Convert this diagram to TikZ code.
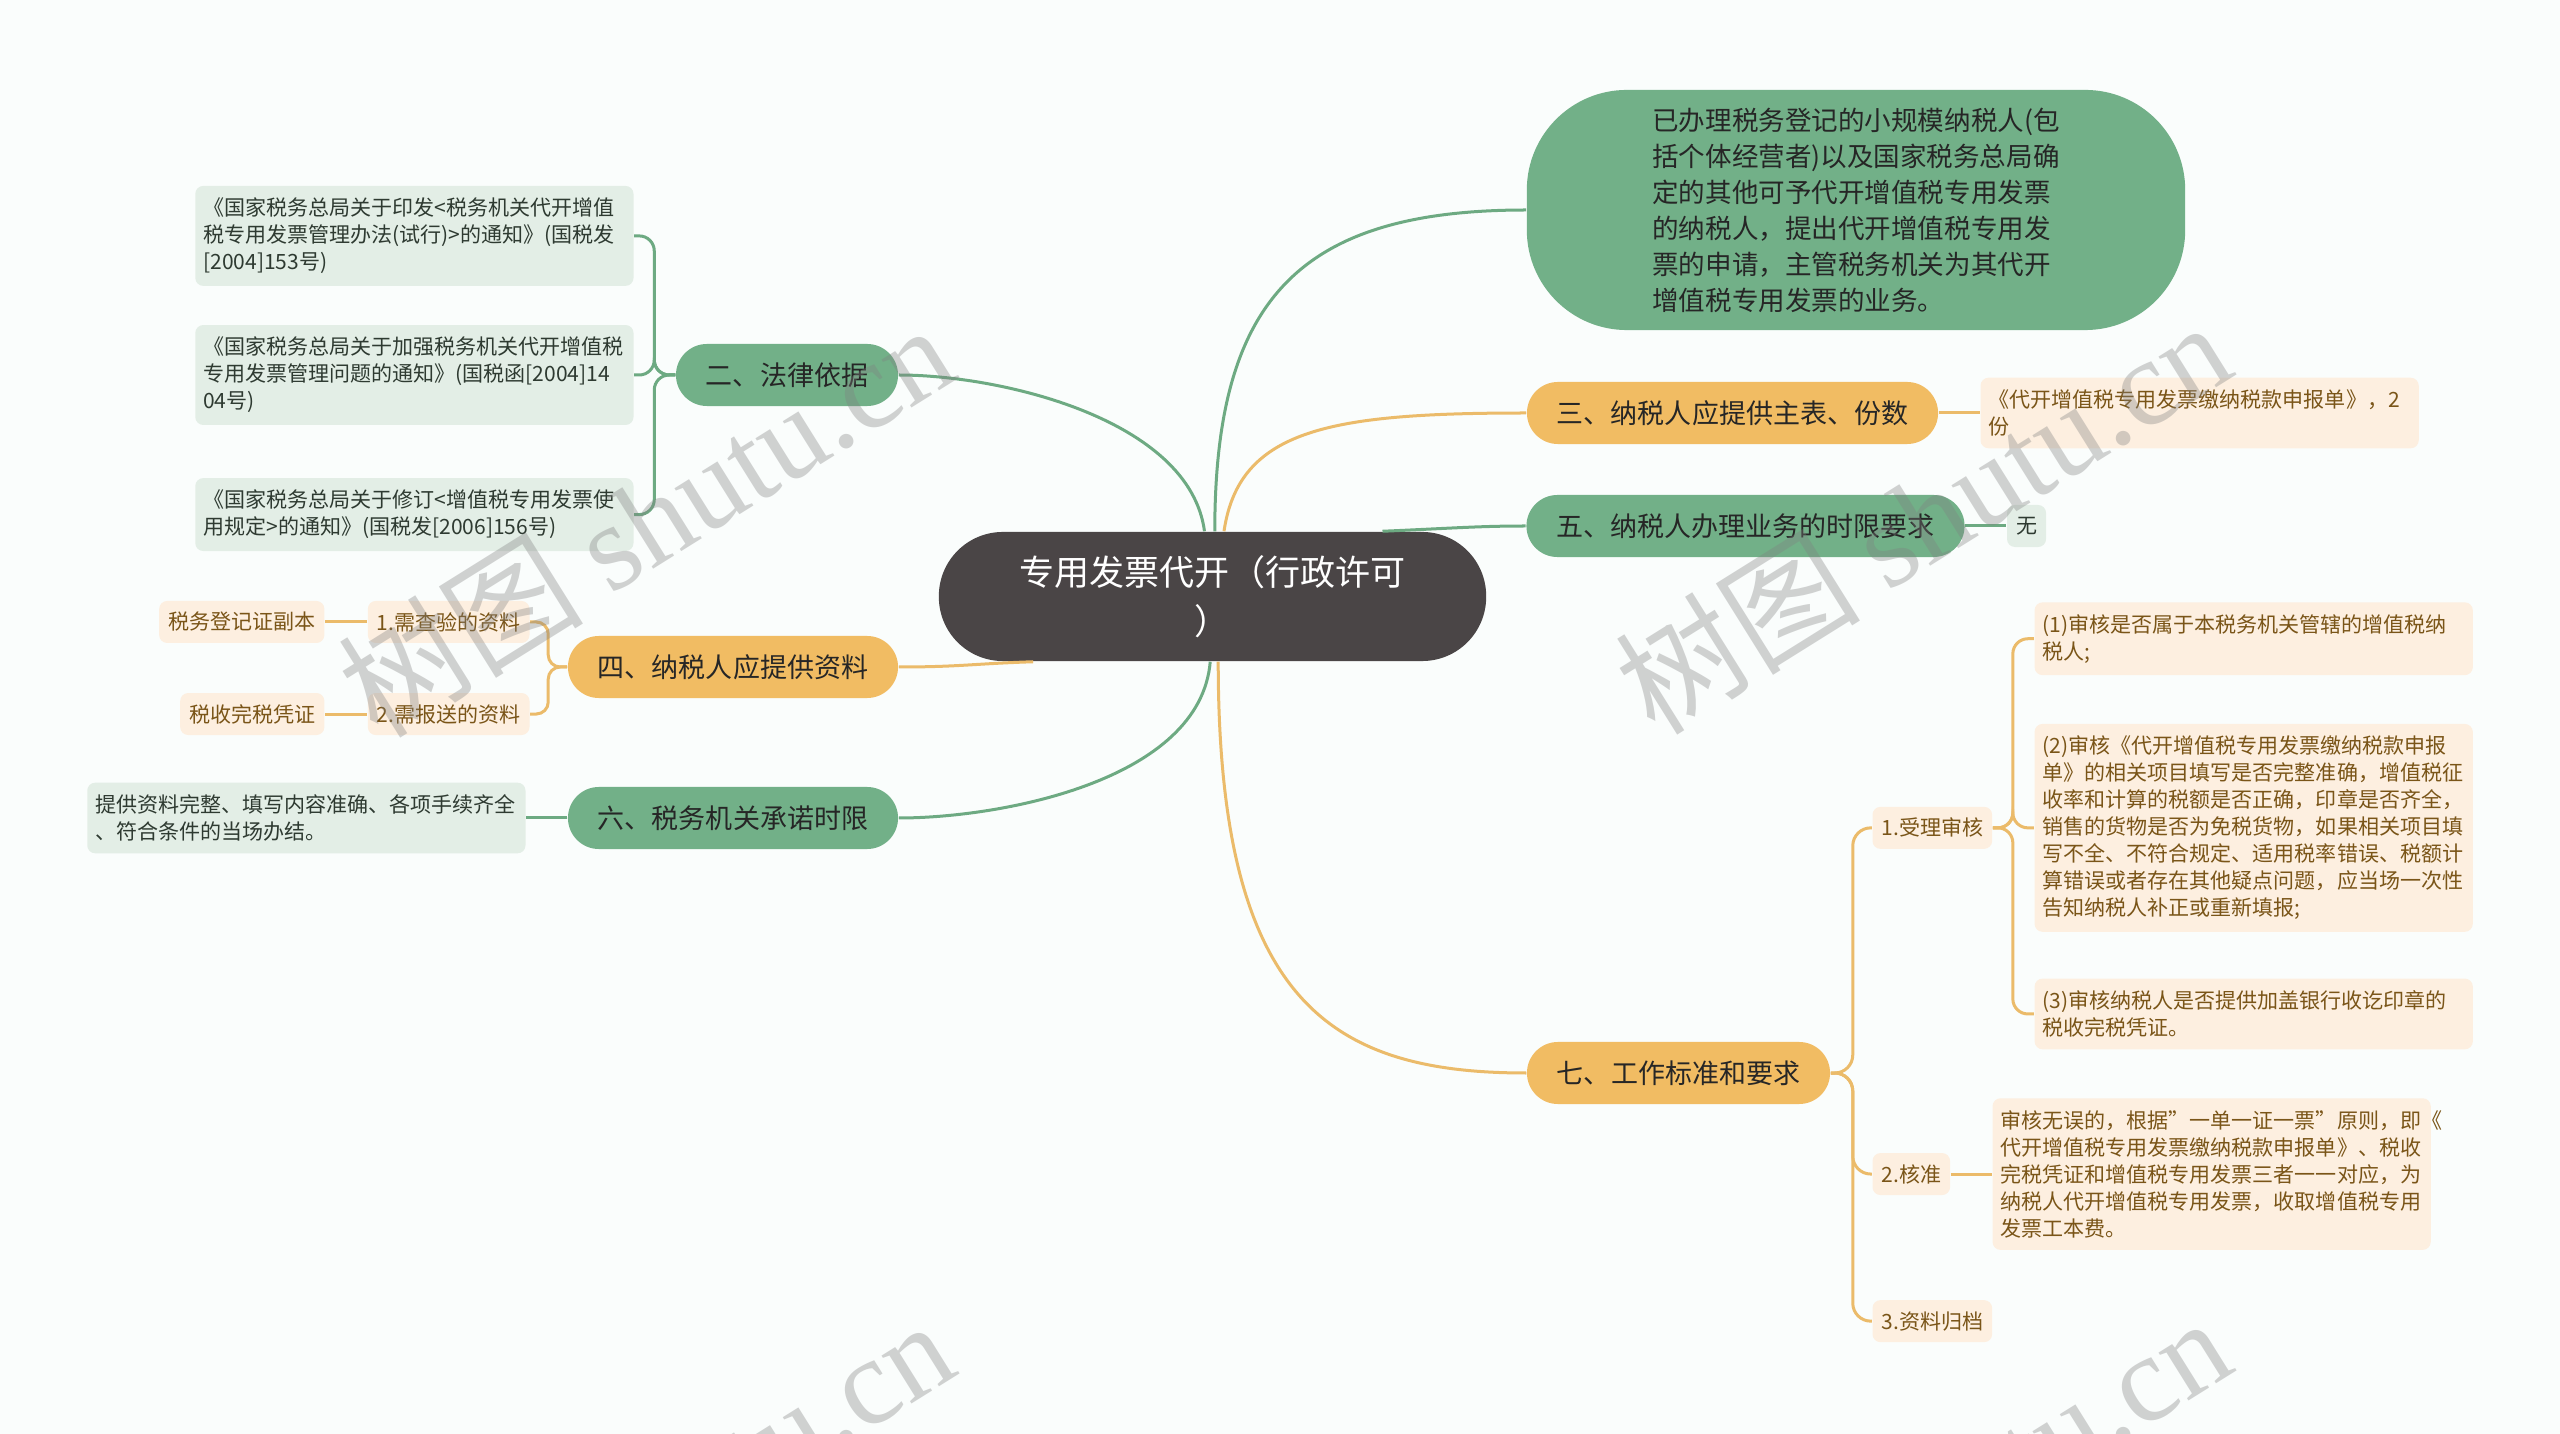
\documentclass[tikz,border=0pt]{standalone}
\usepackage{fontspec}
\setmainfont{Noto Sans CJK SC}
\newfontfamily\wmlatin{Liberation Serif}
\usetikzlibrary{positioning}

\definecolor{bgcol}{HTML}{FAFDFC}
\definecolor{rootfill}{HTML}{4A4546}
\definecolor{greenfill}{HTML}{72B088}
\definecolor{orangefill}{HTML}{F1BC63}
\definecolor{greenleaf}{HTML}{E3EEE6}
\definecolor{orangeleaf}{HTML}{FDEFE0}
\definecolor{greenline}{HTML}{6DAA82}
\definecolor{orangeline}{HTML}{EBBB6A}
\definecolor{maintext}{HTML}{262626}
\definecolor{gleaftext}{HTML}{2E3A31}
\definecolor{oleaftext}{HTML}{7A5518}

\begin{document}
\begin{tikzpicture}[
  x=0.01cm, y=-0.01cm,
  node distance=0.41cm,
  mainnode/.style={rounded corners=0.31cm,minimum height=0.62cm,inner xsep=0.3cm,inner ysep=0pt,
                   text=maintext,font=\fontsize{7.68}{9}\selectfont},
  gmain/.style={mainnode,fill=greenfill},
  omain/.style={mainnode,fill=orangefill},
  leaf/.style={rounded corners=0.08cm,inner xsep=0.08cm,inner ysep=0.12cm,align=left,
               text width=4.22cm,font=\fontsize{5.98}{7.68}\selectfont},
  gleaf/.style={leaf,fill=greenleaf,text=gleaftext},
  oleaf/.style={leaf,fill=orangeleaf,text=oleaftext},
  subtag/.style={rounded corners=0.08cm,inner xsep=0.09cm,inner ysep=0pt,minimum height=0.42cm,
                 font=\fontsize{5.98}{7.68}\selectfont},
  otag/.style={subtag,fill=orangeleaf,text=oleaftext},
  gtag/.style={subtag,fill=greenleaf,text=gleaftext},
  gline/.style={draw=greenline,line width=0.03cm},
  oline/.style={draw=orangeline,line width=0.03cm},
  wm/.style={text=gray,text opacity=0.35,rotate=32,font=\fontsize{35}{40}\selectfont},
]
\useasboundingbox (0,0) rectangle (2560,1434);
\fill[bgcol] (0,0) rectangle (2560,1434);

% centre and main branches
\node[rounded corners=0.64cm,minimum width=5.47cm,minimum height=1.29cm,fill=rootfill,text=white,
      align=center,font=\fontsize{9.96}{13.94}\selectfont] (root) at (1212.5,596.5)
  {专用发票代开（行政许可\\）};
\node[gmain,rounded corners=1cm,minimum width=6.58cm,minimum height=2.4cm,align=left,
      font=\fontsize{7.55}{10.24}\selectfont] (desc) at (1856,210)
  {已办理税务登记的小规模纳税人(包\\括个体经营者)以及国家税务总局确\\定的其他可予代开增值税专用发票\\的纳税人，提出代开增值税专用发\\票的申请，主管税务机关为其代开\\增值税专用发票的业务。};
\node[gmain] (law) at (787,375) {二、法律依据};
\node[omain] (form) at (1732.5,413) {三、纳税人应提供主表、份数};
\node[omain] (docs) at (733,667) {四、纳税人应提供资料};
\node[gmain] (limit) at (1745.5,526) {五、纳税人办理业务的时限要求};
\node[gmain] (promise) at (733,818) {六、税务机关承诺时限};
\node[omain] (std) at (1678.5,1073) {七、工作标准和要求};

\draw[gline] (root.97) .. controls +(-15,-112) and +(102,0) .. (law.east);
\draw[gline] (root.88) .. controls +(0,-232) and +(-227,0) .. (desc.west);
\draw[oline] (root.80) .. controls +(15,-102) and +(-197,0) .. (form.west);
\draw[gline] (root.21) .. controls +(70,-3) and +(-47,0) .. (limit.west);
\draw[oline] (root.200) .. controls +(-60,2) and +(60,0) .. (docs.east);
\draw[gline] (root.-92) .. controls +(-10,119) and +(102,0) .. (promise.east);
\draw[oline] (root.-85) .. controls +(0,339) and +(-197,0) .. (std.west);

% 二
\node[gleaf,left=of law,yshift=1.39cm] (law1)
  {《国家税务总局关于印发<税务机关代开增值\\税专用发票管理办法(试行)>的通知》(国税发\\{}[2004]153号)};
\node[gleaf,left=of law] (law2)
  {《国家税务总局关于加强税务机关代开增值税\\专用发票管理问题的通知》(国税函[2004]14\\04号)};
\node[gleaf,left=of law,yshift=-1.395cm] (law3)
  {《国家税务总局关于修订<增值税专用发票使\\用规定>的通知》(国税发[2006]156号)};
\foreach \n in {law1,law2,law3}
  \draw[gline,rounded corners=0.15cm] (law.west) -- ++(-21,0) |- (\n.east);

% 三 and 五
\node[oleaf,right=of form] (formleaf) {《代开增值税专用发票缴纳税款申报单》，2\\份};
\draw[oline] (form.east) -- (formleaf.west);
\node[gtag,right=of limit] (limitleaf) {无};
\draw[gline] (limit.east) -- (limitleaf.west);

% 四
\node[otag,left=0.37cm of docs,yshift=0.45cm] (check1) {1.需查验的资料};
\node[otag,left=0.37cm of docs,yshift=-0.47cm] (check2) {2.需报送的资料};
\node[otag,left=0.42cm of check1] (lic) {税务登记证副本};
\node[otag,left=0.42cm of check2] (receipt) {税收完税凭证};
\foreach \n in {check1,check2}
  \draw[oline,rounded corners=0.12cm] (docs.west) -- ++(-19,0) |- (\n.east);
\draw[oline] (check1.west) -- (lic.east);
\draw[oline] (check2.west) -- (receipt.east);

% 六
\node[gleaf,left=of promise] (promiseleaf) {提供资料完整、填写内容准确、各项手续齐全\\、符合条件的当场办结。};
\draw[gline] (promise.west) -- (promiseleaf.east);

% 七
\node[otag,right=of std,yshift=2.45cm] (accept) {1.受理审核};
\node[otag,right=of std,yshift=-1.01cm] (approve) {2.核准};
\node[otag,right=of std,yshift=-2.48cm] (archive) {3.资料归档};
\foreach \n in {accept,approve,archive}
  \draw[oline,rounded corners=0.18cm] (std.east) -- ++(22,0) |- (\n.west);

\node[oleaf,right=of accept,yshift=1.89cm] (check11) {(1)审核是否属于本税务机关管辖的增值税纳\\税人;};
\node[oleaf,right=of accept] (check12)
  {(2)审核《代开增值税专用发票缴纳税款申报\\单》的相关项目填写是否完整准确，增值税征\\收率和计算的税额是否正确，印章是否齐全，\\销售的货物是否为免税货物，如果相关项目填\\写不全、不符合规定、适用税率错误、税额计\\算错误或者存在其他疑点问题，应当场一次性\\告知纳税人补正或重新填报;};
\node[oleaf,right=of accept,yshift=-1.86cm] (check13) {(3)审核纳税人是否提供加盖银行收讫印章的\\税收完税凭证。};
\foreach \n in {check11,check12,check13}
  \draw[oline,rounded corners=0.15cm] (accept.east) -- ++(20,0) |- (\n.west);

\node[oleaf,right=of approve] (approveleaf)
  {审核无误的，根据{\char34}一单一证一票{\char34}原则，即《\\代开增值税专用发票缴纳税款申报单》、税收\\完税凭证和增值税专用发票三者一一对应，为\\纳税人代开增值税专用发票，收取增值税专用\\发票工本费。};
\draw[oline] (approve.east) -- (approveleaf.west);

% watermarks
\foreach \wx/\wy [count=\i] in {645/519,1922/516,645/1515,1922/1512}
  \node[wm] (wm\i) at (\wx,\wy) {树图 {\wmlatin shutu.cn}};
\end{tikzpicture}
\end{document}
